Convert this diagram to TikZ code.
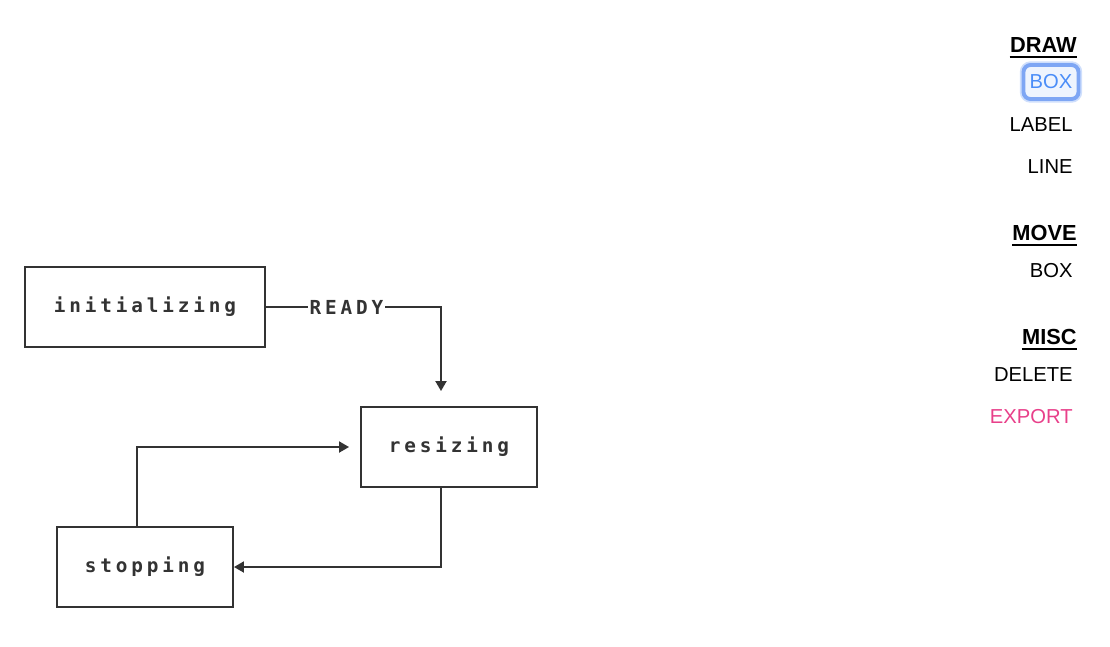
\documentclass[tikz,border=0pt]{standalone}
\usepackage{fontspec}
\setmainfont{Liberation Sans}
\newfontfamily\pixelfont[LetterSpace=20]{DejaVu Sans Mono}
\usepackage{xcolor}
\usepackage{tikz}
\usetikzlibrary{arrows.meta,positioning}
\definecolor{ink}{HTML}{333333}
\definecolor{toolblue}{HTML}{4A8DF8}
\definecolor{toolring}{HTML}{7EA6F4}
\definecolor{toolglow}{HTML}{CFDFFC}
\definecolor{toolfill}{HTML}{EEF4FE}
\definecolor{exportpink}{HTML}{E8408A}
\tikzstyle{statebox} = [rectangle, minimum width = 3.52cm, minimum height=1.6cm, text centered, draw = ink, line width=1.1pt, text=ink, font=\pixelfont\bfseries\fontsize{11}{13}\selectfont]
\tikzstyle{linklabel} = [fill=white, inner xsep=1pt, text=ink, font=\pixelfont\bfseries\fontsize{11}{13}\selectfont]
\tikzstyle{arrow} = [line width=1.1pt, draw=ink, -{Triangle[length=2mm,width=2.2mm]}]
\tikzstyle{menuitem} = [anchor=east, inner sep=0pt, text=black, font=\fontsize{11.5}{14}\selectfont]
\tikzstyle{menuhead} = [menuitem, font=\bfseries\fontsize{12.4}{14}\selectfont]
\tikzstyle{toolon} = [rectangle, rounded corners=4pt, minimum width=1.1cm, minimum height=0.68cm, draw=toolring, line width=2.2pt, fill=toolfill, text=toolblue, preaction={draw=toolglow, line width=4.2pt}, font=\fontsize{11.5}{14}\selectfont]

\begin{document}
\begin{tikzpicture}[node distance = 2.8cm]
\useasboundingbox (0,0) rectangle (22.2,-12.92);

% states
\node(init)   [statebox, minimum width = 4.8cm] at (2.9,-6.14) {initializing};
\node(resize) [statebox, below of = init, xshift=6.08cm] {resizing};
\node(stop)   [statebox, below of = resize, xshift=-6.08cm, yshift=0.4cm] {stopping};

\draw [arrow, shorten >=0.3cm] (init.east) -| node[linklabel, pos=0.23]{READY} ([xshift=-0.16cm]resize.north);
\draw [arrow, shorten >=0.22cm] ([xshift=-0.16cm]stop.north) |- (resize.west);
\draw [arrow] ([xshift=-0.16cm]resize.south) |- (stop.east);

% tool menu
\node(hdraw)  [menuhead] at (21.54,-0.90) {DRAW};
\node(tbox)   [toolon] at (21.02,-1.64) {BOX};
\node(tlabel) [menuitem] at (21.46,-2.50) {LABEL};
\node(tline)  [menuitem] at (21.46,-3.34) {LINE};
\node(hmove)  [menuhead] at (21.54,-4.66) {MOVE};
\node(mbox)   [menuitem] at (21.46,-5.42) {BOX};
\node(hmisc)  [menuhead] at (21.54,-6.74) {MISC};
\node(tdel)   [menuitem] at (21.46,-7.50) {DELETE};
\node(texp)   [menuitem, text=exportpink] at (21.46,-8.34) {EXPORT};

\foreach \h in {hdraw,hmove,hmisc}
  \draw [line width=1.4pt] ([yshift=-2.5pt]\h.base west) -- ([yshift=-2.5pt]\h.base east);

\end{tikzpicture}
\end{document}
